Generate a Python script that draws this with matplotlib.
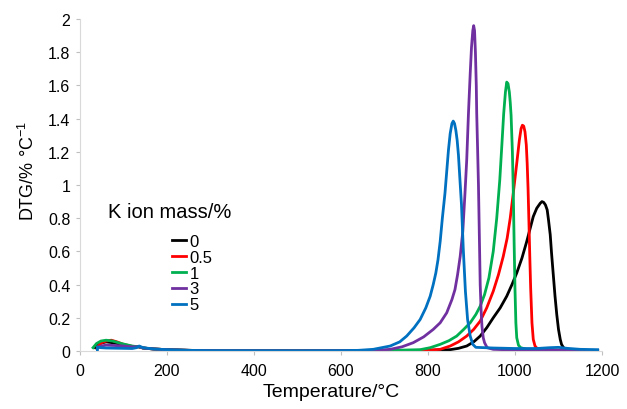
import matplotlib
matplotlib.use("Agg")
import matplotlib.pyplot as plt

plt.rcParams['font.family'] = ['Liberation Sans', 'DejaVu Sans']
plt.rcParams['mathtext.default'] = 'regular'

series_labels = ["0", "0.5", "1", "3", "5"]
series_colors = ["#000000", "#ff0000", "#00b050", "#7030a0", "#0070c0"]

# Temperature (°C) and DTG (% °C^-1)
t_k0 = [35, 45, 60, 75, 95, 120, 135, 145, 170, 200, 250, 300, 500, 700, 800, 851, 870, 889, 905, 920, 935, 950,
        966, 981, 993, 1004, 1016, 1027, 1035, 1042, 1050, 1058, 1062, 1066, 1070, 1074, 1077, 1081, 1084, 1088,
        1092, 1096, 1100, 1104, 1107, 1111, 1115, 1125, 1150, 1190]
y_k0 = [0.02, 0.045, 0.055, 0.05, 0.04, 0.025, 0.025, 0.018, 0.012, 0.008, 0.004, 0.002, 0.001, 0.002, 0.004, 0.008, 0.016, 0.03, 0.055, 0.09, 0.14, 0.2,
        0.26, 0.33, 0.4, 0.47, 0.56, 0.66, 0.74, 0.81, 0.86, 0.89, 0.90, 0.895, 0.88, 0.85, 0.79, 0.7, 0.59, 0.46,
        0.33, 0.22, 0.13, 0.07, 0.04, 0.022, 0.014, 0.008, 0.004, 0.003]

t_k05 = [40, 50, 60, 72, 85, 100, 120, 135, 145, 170, 200, 250, 300, 500, 700, 760, 800, 828, 851, 870, 889, 905,
         920, 935, 950, 962, 973, 982, 989, 996, 1004, 1010, 1014, 1017, 1020, 1023, 1026, 1028, 1030, 1032, 1034,
         1036, 1039, 1042, 1046, 1052, 1080, 1120, 1190]
y_k05 = [0.025, 0.05, 0.06, 0.065, 0.055, 0.04, 0.028, 0.026, 0.018, 0.012, 0.008, 0.004, 0.002, 0.001, 0.002, 0.003, 0.005, 0.01, 0.03, 0.055, 0.09, 0.13,
         0.18, 0.26, 0.36, 0.46, 0.57, 0.68, 0.8, 0.95, 1.13, 1.27, 1.34, 1.36, 1.355, 1.32, 1.24, 1.13, 0.98, 0.78, 0.57,
         0.38, 0.17, 0.07, 0.03, 0.012, 0.006, 0.004, 0.003]

t_k1 = [30, 38, 48, 60, 75, 95, 120, 135, 145, 170, 200, 250, 300, 500, 650, 720, 782, 805, 828, 848, 866, 882, 897,
        910, 920, 930, 940, 950, 958, 965, 970, 974, 978, 981, 984, 987, 989, 991, 994, 996, 998, 1000, 1002, 1004,
        1008, 1013, 1030, 1100, 1190]
y_k1 = [0.02, 0.045, 0.06, 0.065, 0.06, 0.045, 0.03, 0.025, 0.018, 0.012, 0.008, 0.004, 0.002, 0.001, 0.002, 0.004, 0.008, 0.02, 0.04, 0.062, 0.09, 0.13, 0.17,
        0.22, 0.27, 0.34, 0.44, 0.6, 0.8, 1.03, 1.25, 1.43, 1.56, 1.62, 1.61, 1.56, 1.5, 1.42, 1.2, 0.97, 0.65, 0.37, 0.17, 0.08,
        0.035, 0.02, 0.008, 0.005, 0.003]

t_k3 = [40, 48, 60, 80, 100, 120, 135, 145, 170, 200, 250, 300, 500, 600, 680, 713, 740, 766, 790, 812, 828, 843, 855,
        862, 868, 874, 880, 885, 889, 893, 897, 900, 903, 905, 907, 909, 911, 912, 914, 916, 918, 920, 922, 924,
        927, 930, 936, 950, 1000, 1100, 1190]
y_k3 = [0.015, 0.03, 0.035, 0.033, 0.03, 0.025, 0.026, 0.018, 0.012, 0.008, 0.004, 0.002, 0.001, 0.002, 0.004, 0.01, 0.025, 0.05, 0.085, 0.13, 0.17, 0.23, 0.31,
        0.37, 0.46, 0.57, 0.72, 0.95, 1.15, 1.43, 1.67, 1.83, 1.93, 1.96, 1.93, 1.8, 1.6, 1.43, 1.22, 1.0, 0.7, 0.4, 0.25, 0.15,
        0.08, 0.05, 0.02, 0.01, 0.006, 0.004, 0.003]

t_k5 = [40, 40, 48, 60, 80, 100, 120, 130, 136, 145, 170, 200, 250, 300, 500, 600, 640, 674, 713, 735, 751, 768, 782,
        795, 805, 812, 818, 823, 828, 833, 839, 843, 847, 851, 855, 858, 861, 864, 867, 870, 873, 877, 881, 886,
        891, 897, 903, 910, 950, 1000, 1050, 1080, 1100, 1120, 1150, 1190]
y_k5 = [0.0, 0.025, 0.02, 0.018, 0.017, 0.016, 0.015, 0.02, 0.03, 0.02, 0.012, 0.008, 0.004, 0.002, 0.001, 0.002, 0.004, 0.01, 0.03, 0.055, 0.09, 0.14, 0.19,
        0.26, 0.33, 0.4, 0.47, 0.55, 0.66, 0.8, 0.95, 1.08, 1.21, 1.31, 1.37, 1.385, 1.37, 1.33, 1.27, 1.18, 1.05, 0.88, 0.62, 0.36,
        0.19, 0.09, 0.04, 0.022, 0.018, 0.015, 0.015, 0.02, 0.022, 0.016, 0.01, 0.008]

series_t = [t_k0, t_k05, t_k1, t_k3, t_k5]
series_y = [y_k0, y_k05, y_k1, y_k3, y_k5]

x_ticks = [0, 200, 400, 600, 800, 1000, 1200]
y_ticks = [0, 0.2, 0.4, 0.6, 0.8, 1, 1.2, 1.4, 1.6, 1.8, 2]
y_tick_labels = ["0", "0.2", "0.4", "0.6", "0.8", "1", "1.2", "1.4", "1.6", "1.8", "2"]

fig = plt.figure(figsize=(6.27, 4.10), dpi=100)
ax = fig.add_axes([80/627, 58/410, 522/627, 332/410])

handles = []
for t, y, c, lab in zip(series_t, series_y, series_colors, series_labels):
    h, = ax.plot(t, y, color=c, lw=2.0, label=lab, solid_joinstyle='round')
    handles.append(h)

ax.set_xlim(0, 1200)
ax.set_ylim(0, 2)
ax.set_xticks(x_ticks)
ax.set_yticks(y_ticks)
ax.set_yticklabels(y_tick_labels)
for s in ['top', 'right']:
    ax.spines[s].set_visible(False)
for s in ['left', 'bottom']:
    ax.spines[s].set_color('#d9d9d9')
    ax.spines[s].set_linewidth(0.8)
ax.tick_params(axis='both', colors='#bfbfbf', length=3, width=0.8, labelsize=11.5, labelcolor='black')
ax.tick_params(axis='x', pad=6)
ax.tick_params(axis='y', pad=4)

ax.set_xlabel("Temperature/°C", fontsize=14)
ax.set_ylabel("DTG/% °C$^{-1}$", fontsize=13)
ax.xaxis.set_label_coords((331-80)/522, -0.095)
ax.yaxis.set_label_coords((38-80)/522, (352-171)/332)

fig.text(108/627, 1 - 213/410, "K ion mass/%", fontsize=14.5, va='center', ha='left')
leg = ax.legend(handles=handles, loc='upper left', bbox_to_anchor=((172-80)/522, (352-235)/332),
                frameon=False, fontsize=12, handlelength=0.85, handletextpad=0.2,
                labelspacing=0.05, borderaxespad=0, borderpad=0)

fig.savefig("out.png", dpi=100)
